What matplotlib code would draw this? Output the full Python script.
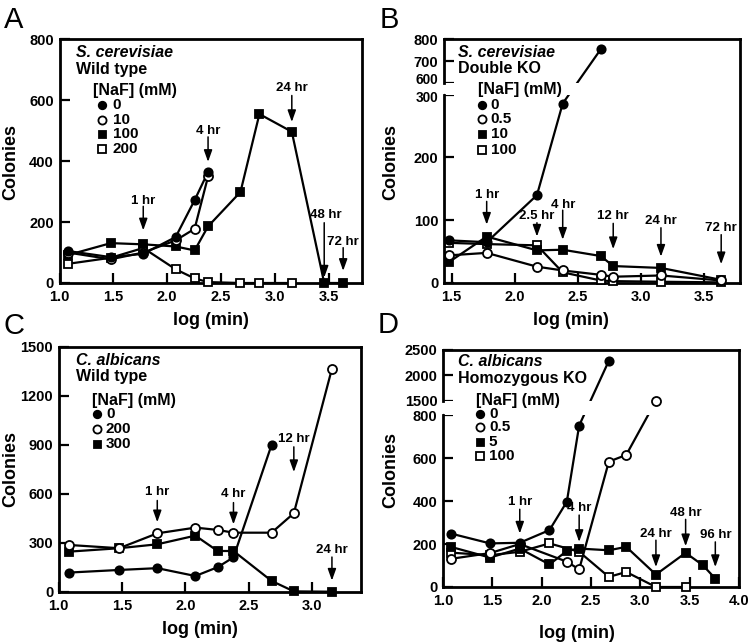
import numpy as np
import matplotlib
matplotlib.use('Agg')
import matplotlib.pyplot as plt
from matplotlib.patches import Rectangle
from matplotlib.transforms import offset_copy

plt.rcParams['font.family'] = ['Liberation Sans', 'DejaVu Sans']
plt.rcParams['font.weight'] = 'bold'

# ---------------- Panel A: S. cerevisiae wild type ----------------
a_x_0 = [1.079, 1.477, 1.778, 2.079, 2.255, 2.380]
a_y_0 = [105, 85, 96, 151, 272, 365]
a_x_10 = [1.079, 1.477, 1.778, 2.079, 2.255, 2.380]
a_y_10 = [100, 78, 100, 140, 178, 350]
a_x_100 = [1.079, 1.477, 1.778, 2.079, 2.255, 2.380, 2.681, 2.857, 3.158, 3.459, 3.635]
a_y_100 = [92, 131, 127, 120, 107, 186, 299, 555, 497, 0, 0]
a_x_200 = [1.079, 1.477, 1.778, 2.079, 2.255, 2.380, 2.681, 2.857, 3.158]
a_y_200 = [63, 83, 115, 45, 15, 3, 0, 0, 0]
a_legend = ['0', '10', '100', '200']
a_ann_lab = ['1 hr', '4 hr', '24 hr', '48 hr', '72 hr']
a_ann_x = [1.778, 2.380, 3.158, 3.459, 3.635]
a_ann_tx = [1.778, 2.380, 3.158, 3.475, 3.630]
a_ann_ytext = [271, 500, 640, 223, 135]
a_ann_ystart = [252, 480, 616, 198, 116]
a_ann_ytip = [173, 398, 529, 18, 40]

# ---------------- Panel B: S. cerevisiae double KO ----------------
b_x_0 = [1.477, 1.778, 2.176, 2.380, 2.681]
b_y_0 = [68, 65, 140, 286, 755]
b_x_05 = [1.477, 1.778, 2.176, 2.380, 2.681, 2.78, 3.158, 3.635]
b_y_05 = [44, 48, 26, 20, 13, 10, 12, 4]
b_x_10 = [1.477, 1.778, 2.176, 2.380, 2.681, 2.78, 3.158, 3.635]
b_y_10 = [33, 74, 52, 53, 43, 27, 24, 5]
b_x_100 = [1.477, 1.778, 2.176, 2.380, 2.681, 2.78, 3.158, 3.635]
b_y_100 = [64, 62, 60, 17, 4, 3, 2, 1]
b_legend = ['0', '0.5', '10', '100']
b_ann_lab = ['1 hr', '2.5 hr', '4 hr', '12 hr', '24 hr', '72 hr']
b_ann_x = [1.778, 2.176, 2.380, 2.78, 3.158, 3.635]
b_ann_ytext = [141, 106, 125, 106, 98, 88]
b_ann_ystart = [130, 96, 116, 95, 88, 77]
b_ann_ytip = [93, 74, 69, 54, 42, 30]

# ---------------- Panel C: C. albicans wild type ----------------
c_x_0 = [1.079, 1.477, 1.778, 2.079, 2.255, 2.380, 2.681]
c_y_0 = [117, 133, 144, 96, 150, 210, 898]
c_x_200 = [1.079, 1.477, 1.778, 2.079, 2.255, 2.380, 2.681, 2.857, 3.158]
c_y_200 = [286, 266, 357, 392, 378, 361, 361, 480, 1364]
c_x_300 = [1.079, 1.477, 1.778, 2.079, 2.255, 2.380, 2.681, 2.857, 3.158]
c_y_300 = [245, 266, 290, 343, 249, 249, 66, 2, 0]
c_legend = ['0', '200', '300']
c_ann_lab = ['1 hr', '4 hr', '12 hr', '24 hr']
c_ann_x = [1.778, 2.380, 2.857, 3.158]
c_ann_ytext = [610, 595, 937, 256]
c_ann_ystart = [558, 545, 886, 212]
c_ann_ytip = [425, 412, 732, 68]

# ---------------- Panel D: C. albicans homozygous KO ----------------
d_x_0 = [1.079, 1.477, 1.778, 2.079, 2.255, 2.380, 2.681]
d_y_0 = [249, 203, 206, 265, 397, 752, 2280]
d_x_05 = [1.079, 1.477, 1.778, 2.255, 2.380, 2.681, 2.857, 3.158]
d_y_05 = [131, 158, 200, 118, 82, 584, 615, 1490]
d_x_5 = [1.079, 1.477, 1.778, 2.079, 2.255, 2.380, 2.681, 2.857, 3.158, 3.459, 3.635, 3.760]
d_y_5 = [187, 137, 179, 105, 168, 179, 171, 187, 58, 159, 101, 39]
d_x_100 = [1.079, 1.477, 1.778, 2.079, 2.380, 2.681, 2.857, 3.158, 3.459]
d_y_100 = [160, 148, 164, 203, 164, 47, 70, 0, 0]
d_legend = ['0', '0.5', '5', '100']
d_ann_lab = ['1 hr', '4 hr', '24 hr', '48 hr', '96 hr']
d_ann_x = [1.778, 2.380, 3.158, 3.459, 3.760]
d_ann_ytext = [397, 366, 249, 343, 242]
d_ann_ystart = [362, 335, 218, 315, 210]
d_ann_ytip = [249, 210, 93, 190, 93]

# ---------------- styles ----------------
STY = {
    'fc': dict(marker='o', mfc='black', mec='black', ms=6.0),
    'oc': dict(marker='o', mfc='white', mec='black', ms=6.5),
    'fs': dict(marker='s', mfc='black', mec='black', ms=5.6),
    'os': dict(marker='s', mfc='white', mec='black', ms=6.0),
}
LW = 1.6
SPINE_LW = 2.0
TICK_FS = 10.5
LEG_FS = 11
ANN_FS = 9.5

fig = plt.figure(figsize=(7.53, 6.43), dpi=100)
W, H = 753.0, 643.0


def add_ax(left, top, right, bottom):
    return fig.add_axes([left / W, 1 - bottom / H, (right - left) / W, (bottom - top) / H])


axA = add_ax(59.5, 39.5, 362.0, 283.0)
axB = add_ax(444.0, 39.5, 739.5, 283.0)
axC = add_ax(58.8, 346.5, 361.3, 591.7)
axD = add_ax(443.0, 349.5, 739.0, 587.0)


def piecewise(bp, up):
    bp = np.asarray(bp, float)
    up = np.asarray(up, float)
    s0 = (up[1] - up[0]) / (bp[1] - bp[0])
    s1 = (up[-1] - up[-2]) / (bp[-1] - bp[-2])

    def f(v):
        v = np.asarray(v, float)
        r = np.interp(v, bp, up)
        r = np.where(v < bp[0], up[0] + (v - bp[0]) * s0, r)
        r = np.where(v > bp[-1], up[-1] + (v - bp[-1]) * s1, r)
        return r

    def g(u):
        u = np.asarray(u, float)
        r = np.interp(u, up, bp)
        r = np.where(u < up[0], bp[0] + (u - up[0]) / s0, r)
        r = np.where(u > up[-1], bp[-1] + (u - up[-1]) / s1, r)
        return r
    return f, g


def style_ax(ax, xlim, xticks, ylim, yticks, hidden_ylabels=()):
    ax.set_xlim(*xlim)
    ax.set_ylim(*ylim)
    ax.set_xticks(xticks)
    ax.set_xticklabels(['%.1f' % t for t in xticks])
    ax.set_yticks(yticks)
    ax.set_yticklabels(['' if t in hidden_ylabels else str(t) for t in yticks])
    ax.minorticks_off()
    for s in ax.spines.values():
        s.set_linewidth(SPINE_LW)
    ax.tick_params(axis='both', direction='in', length=7.5, width=1.6,
                   labelsize=TICK_FS, top=False, right=False)
    ax.tick_params(axis='x', pad=5)
    ax.tick_params(axis='y', pad=4)


def series(ax, x, y, key, z=3):
    # connecting line first, markers on top (above the axis-break mask)
    ax.plot(x, y, color='black', lw=LW, clip_on=False, zorder=z)
    ax.plot(x, y, ls='none', mew=1.3, clip_on=False, zorder=z + 1.0, **STY[key])


def legend(ax, title1, title2, items, keys, tx, t1y, t2y, hx, hy, mx, txx, ys):
    ax.text(tx, t1y, title1, transform=ax.transAxes, fontsize=LEG_FS + 0.5, style='italic',
            fontweight='bold', ha='left', va='center', zorder=6)
    ax.text(tx, t2y, title2, transform=ax.transAxes, fontsize=LEG_FS + 0.5,
            fontweight='bold', ha='left', va='center', zorder=6)
    ax.text(hx, hy, '[NaF] (mM)', transform=ax.transAxes, fontsize=LEG_FS + 0.5,
            fontweight='bold', ha='left', va='center', zorder=6)
    for lab, k, yy in zip(items, keys, ys):
        st = dict(STY[k])
        st['ms'] = st['ms'] * 0.9
        ax.plot([mx], [yy], transform=ax.transAxes, ls='none', mew=1.3, clip_on=False,
                zorder=6, **st)
        ax.text(txx, yy, lab, transform=ax.transAxes, fontsize=LEG_FS,
                fontweight='bold', ha='left', va='center', zorder=6)


def arrows(ax, labels, xs, ytext, ystart, ytip, txs=None):
    if txs is None:
        txs = xs
    for lab, x, tx, yt, ys, yp in zip(labels, xs, txs, ytext, ystart, ytip):
        ax.annotate('', xy=(x, yp), xytext=(x, ys),
                    arrowprops=dict(arrowstyle='-|>,head_length=0.7,head_width=0.25',
                                    color='black', lw=1.1, shrinkA=0, shrinkB=0,
                                    mutation_scale=10), zorder=4)
        ax.text(tx, yt, lab, ha='center', va='center', fontsize=ANN_FS,
                fontweight='bold', zorder=5)


def broken_axis(ax, lo, hi, top):
    ax.spines['left'].set_visible(False)
    tr = ax.get_yaxis_transform()
    ax.plot([0, 0], [0, lo], transform=tr, color='black', lw=SPINE_LW,
            solid_capstyle='projecting', clip_on=False, zorder=5)
    ax.plot([0, 0], [hi, top], transform=tr, color='black', lw=SPINE_LW,
            solid_capstyle='projecting', clip_on=False, zorder=5)
    ax.add_patch(Rectangle((0.003, lo), 0.99, hi - lo, transform=tr, facecolor='white',
                           edgecolor='none', zorder=3.5))


def tight_labels(ax, vals_offsets, fs):
    tr = ax.get_yaxis_transform()
    for val, dy in vals_offsets:
        ax.text(0, val, str(val), transform=offset_copy(tr, fig=fig, x=-4, y=dy, units='points'),
                ha='right', va='center', fontsize=fs, fontweight='bold', clip_on=False)


# ---------------- Panel A ----------------
style_ax(axA, (1.0, 3.81), [1.0, 1.5, 2.0, 2.5, 3.0, 3.5], (0, 800), [0, 200, 400, 600, 800])
series(axA, a_x_200, a_y_200, 'os')
series(axA, a_x_100, a_y_100, 'fs')
series(axA, a_x_10, a_y_10, 'oc')
series(axA, a_x_0, a_y_0, 'fc')
arrows(axA, a_ann_lab, a_ann_x, a_ann_ytext, a_ann_ystart, a_ann_ytip, a_ann_tx)
legend(axA, 'S. cerevisiae', 'Wild type', a_legend, ['fc', 'oc', 'fs', 'os'],
       0.054, 0.947, 0.877, 0.111, 0.791, 0.139, 0.176, [0.729, 0.671, 0.613, 0.552])

# ---------------- Panel B ----------------
fB, gB = piecewise([0, 300, 600, 800], [0, 300, 318.4, 388])
axB.set_yscale('function', functions=(fB, gB))
style_ax(axB, (1.44, 3.78), [1.5, 2.0, 2.5, 3.0, 3.5], (0, 800),
         [0, 100, 200, 300, 600, 700, 800], hidden_ylabels=(300, 600))
tight_labels(axB, [(600, 2.0), (300, -2.2)], 9.8)
broken_axis(axB, 300, 600, 800)
series(axB, b_x_100, b_y_100, 'os')
series(axB, b_x_10, b_y_10, 'fs')
series(axB, b_x_05, b_y_05, 'oc')
series(axB, b_x_0, b_y_0, 'fc')
arrows(axB, b_ann_lab, b_ann_x, b_ann_ytext, b_ann_ystart, b_ann_ytip)
legend(axB, 'S. cerevisiae', 'Double KO', b_legend, ['fc', 'oc', 'fs', 'os'],
       0.046, 0.947, 0.880, 0.114, 0.794, 0.129, 0.158, [0.729, 0.675, 0.613, 0.548])

# ---------------- Panel C ----------------
style_ax(axC, (1.0, 3.39), [1.0, 1.5, 2.0, 2.5, 3.0], (0, 1500), [0, 300, 600, 900, 1200, 1500])
series(axC, c_x_300, c_y_300, 'fs')
series(axC, c_x_200, c_y_200, 'oc')
series(axC, c_x_0, c_y_0, 'fc')
arrows(axC, c_ann_lab, c_ann_x, c_ann_ytext, c_ann_ystart, c_ann_ytip)
legend(axC, 'C. albicans', 'Wild type', c_legend, ['fc', 'oc', 'fs'],
       0.057, 0.944, 0.876, 0.11, 0.781, 0.125, 0.156, [0.726, 0.665, 0.604])

# ---------------- Panel D ----------------
fD, gD = piecewise([0, 800, 1500, 2500], [0, 800, 867.8, 1106.1])
axD.set_yscale('function', functions=(fD, gD))
style_ax(axD, (1.0, 4.0), [1.0, 1.5, 2.0, 2.5, 3.0, 3.5, 4.0], (0, 2500),
         [0, 200, 400, 600, 800, 1500, 2000, 2500])
broken_axis(axD, 800, 1500, 2500)
series(axD, d_x_100, d_y_100, 'os')
series(axD, d_x_5, d_y_5, 'fs')
series(axD, d_x_05, d_y_05, 'oc')
series(axD, d_x_0, d_y_0, 'fc')
arrows(axD, d_ann_lab, d_ann_x, d_ann_ytext, d_ann_ystart, d_ann_ytip)
legend(axD, 'C. albicans', 'Homozygous KO', d_legend, ['fc', 'oc', 'fs', 'os'],
       0.052, 0.948, 0.878, 0.110, 0.787, 0.125, 0.155, [0.728, 0.672, 0.611, 0.551])

# ---------------- axis labels & panel letters ----------------
LAB_FS = 13
for (xc, yc) in [(10.5, 161.5), (391, 162), (10.5, 469), (391, 470)]:
    fig.text(xc / W, 1 - yc / H, 'Colonies', rotation=90, ha='center', va='center',
             fontsize=LAB_FS, fontweight='bold')
for (xc, yc) in [(211, 321), (571, 321), (200, 630), (577, 634)]:
    fig.text(xc / W, 1 - yc / H, 'log (min)', ha='center', va='center',
             fontsize=LAB_FS, fontweight='bold')
for lab, (xc, yb) in zip(['A', 'B', 'C', 'D'], [(13.5, 28), (389, 28), (13.5, 334), (388, 333)]):
    fig.text(xc / W, 1 - yb / H, lab, ha='center', va='baseline', fontsize=21,
             fontweight='normal')

fig.savefig('out.png', dpi=100)
